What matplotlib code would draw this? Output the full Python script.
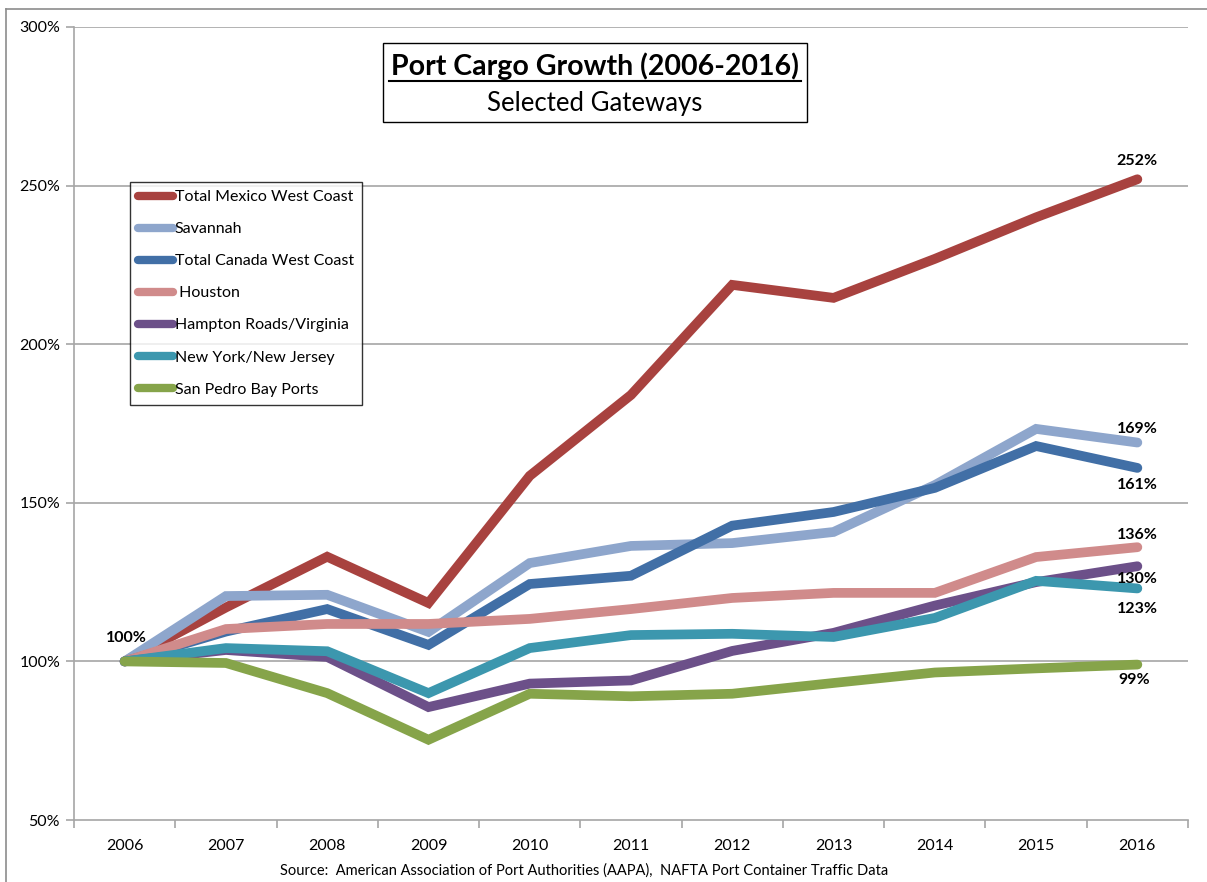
import matplotlib
matplotlib.use('Agg')
import matplotlib.pyplot as plt
from matplotlib.ticker import FuncFormatter, FixedLocator
from matplotlib.lines import Line2D

plt.rcParams['font.family'] = ['Lato', 'DejaVu Sans']

# ── 数据 ──
years = ['2006', '2007', '2008', '2009', '2010', '2011',
         '2012', '2013', '2014', '2015', '2016']

mexico   = [100, 117.0, 133.0, 118.4, 158.5, 184.0, 218.7, 214.6, 226.9, 240.0, 252.0]
savannah = [100, 120.6, 121.0, 109.3, 131.0, 136.4, 137.3, 140.8, 155.6, 173.3, 169.0]
canada   = [100, 109.4, 116.5, 105.2, 124.4, 127.0, 142.8, 147.1, 154.7, 167.9, 161.0]
houston  = [100, 110.2, 111.8, 111.8, 113.4, 116.5, 120.0, 121.6, 121.6, 132.9, 136.0]
hampton  = [100, 103.6, 101.4, 85.6, 93.0, 94.0, 103.3, 109.0, 117.6, 125.0, 130.0]
nynj     = [100, 104.2, 103.2, 90.0, 104.2, 108.3, 108.7, 107.7, 113.7, 125.4, 123.0]
sanpedro = [100, 99.5, 90.0, 75.3, 89.8, 89.0, 89.8, 93.2, 96.5, 97.8, 99.0]

series = [
    ('Total Mexico West Coast', mexico, '#a8423f'),
    ('Savannah', savannah, '#8ea6cc'),
    ('Total Canada West Coast', canada, '#416fa6'),
    (' Houston', houston, '#d08b8b'),
    ('Hampton Roads/Virginia', hampton, '#6c5089'),
    ('New York/New Jersey', nynj, '#3c97ae'),
    ('San Pedro Bay Ports', sanpedro, '#86a44a'),
]

# 末端标签 (值, 文本, dx, dy 以 pt 计)
end_labels = [
    (mexico, '252%', 0, 13),
    (savannah, '169%', 0, 9.5),
    (canada, '161%', 0, -12),
    (houston, '136%', 0, 9),
    (hampton, '130%', 0, -9),
    (nynj, '123%', 0, -14.5),
    (sanpedro, '99%', -2, -11),
]

W, H = 1207, 882
fig = plt.figure(figsize=(W / 100, H / 100), dpi=100)
ax = fig.add_axes([74 / W, 1 - 820 / H, (1188 - 74) / W, (820 - 27) / H])

x = list(range(len(years)))
grid_c = '#a6a6a6'

for yv in [100, 150, 200, 250, 300]:
    ax.axhline(yv, color=grid_c, lw=1.2, zorder=1)

for name, vals, c in series:
    ax.plot(x, vals, color=c, lw=7, solid_capstyle='round',
            solid_joinstyle='miter', zorder=3)

ax.set_xlim(-0.5, 10.5)
ax.set_ylim(50, 300)
ax.set_yticks([50, 100, 150, 200, 250, 300])
ax.yaxis.set_major_formatter(FuncFormatter(lambda v, p: f'{v:.0f}%'))
ax.set_xticks(x)
ax.set_xticklabels(years)
ax.xaxis.set_minor_locator(FixedLocator([i - 0.5 for i in range(len(years) + 1)]))
ax.tick_params(axis='x', which='major', length=0, pad=14, labelsize=11.5)
ax.tick_params(axis='x', which='minor', length=6, color=grid_c, width=1.2)
ax.tick_params(axis='y', length=6, color=grid_c, width=1.2, labelsize=11.5, pad=4)

for s in ['top', 'right']:
    ax.spines[s].set_visible(False)
for s in ['left', 'bottom']:
    ax.spines[s].set_color(grid_c)
    ax.spines[s].set_linewidth(1.2)

# 起点标签
ax.annotate('100%', (0, 100), xytext=(1, 16.5), textcoords='offset points',
            ha='center', va='center', fontsize=11.5, fontweight='bold')
for vals, txt, dx, dy in end_labels:
    ax.annotate(txt, (10, vals[-1]), xytext=(dx, dy), textcoords='offset points',
                ha='center', va='center', fontsize=11.5, fontweight='bold')

# 图例
handles = [Line2D([0], [0], color=c, lw=6, solid_capstyle='round') for _, _, c in series]
leg = ax.legend(handles, [n for n, _, _ in series], loc='upper left',
                bbox_to_anchor=((130 - 74) / (1188 - 74), (820 - 182) / (820 - 27)),
                fontsize=11.5, frameon=True, fancybox=False, handlelength=2.2,
                handletextpad=0.1, labelspacing=1.12, borderpad=0.5,
                borderaxespad=0)
leg.get_frame().set_edgecolor('black')
leg.get_frame().set_linewidth(1.0)

# 标题框
ax.add_patch(plt.Rectangle((383 / W, 1 - 122 / H), (807 - 383) / W, (122 - 43) / H,
                           transform=fig.transFigure, fill=False, ec='black', lw=1.0,
                           zorder=5))
fig.text(595 / W, 1 - 66 / H, 'Port Cargo Growth (2006-2016)', ha='center', va='center',
         fontsize=20.5, fontweight='bold')
fig.add_artist(Line2D([389 / W, 801 / W], [1 - 81 / H, 1 - 81 / H], color='black', lw=1.5))
fig.text(595 / W, 1 - 103 / H, 'Selected Gateways', ha='center', va='center', fontsize=18.5)

# 来源
fig.text(584 / W, 1 - 871 / H,
         'Source:  American Association of Port Authorities (AAPA),  NAFTA Port Container Traffic Data',
         ha='center', va='center', fontsize=10.5)

# 外框
fig.add_artist(Line2D([6 / W, 6 / W], [0, 1 - 9 / H], color='#8c8c8c', lw=1.2))
fig.add_artist(Line2D([6 / W, 1], [1 - 9 / H, 1 - 9 / H], color='#8c8c8c', lw=1.2))

fig.savefig('out.png', dpi=100, facecolor='white')
